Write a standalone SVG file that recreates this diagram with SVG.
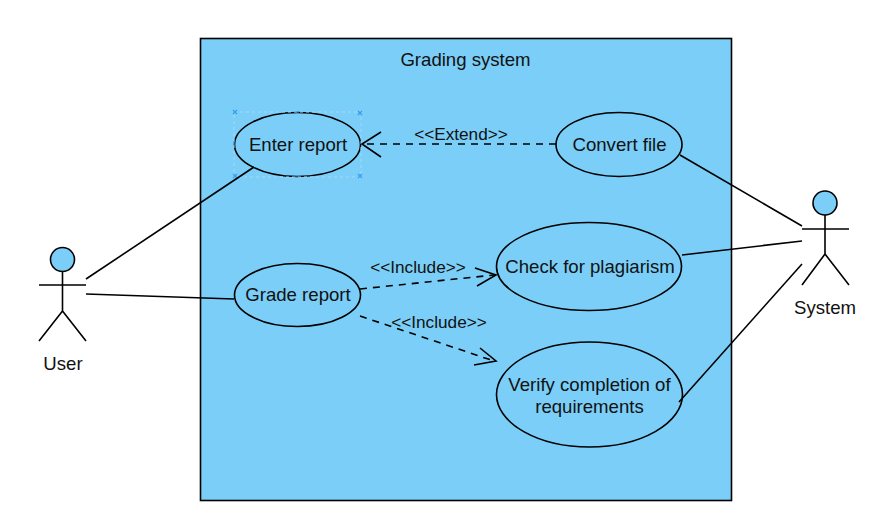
<svg xmlns="http://www.w3.org/2000/svg" width="876" height="523" viewBox="0 0 876 523">
<style>
text{font-family:"Liberation Sans",Arial,sans-serif;font-size:18.6px;fill:#111;text-anchor:middle}
.lab{font-size:17.2px}
.s{fill:#7acef7;stroke:#000;stroke-width:1.6}
.l{fill:none;stroke:#000;stroke-width:1.6}
.d{fill:none;stroke:#000;stroke-width:1.6;stroke-dasharray:7 6}
.sel{fill:none;stroke:#a4d8fb;stroke-width:1;stroke-dasharray:3 3}
.h{fill:none;stroke:#2f9fee;stroke-width:1.2}
</style>
<rect width="876" height="523" fill="#fff"/>
<g id="system-boundary"><rect class="s" x="200.500" y="38.500" width="531" height="462"/><text x="465.500" y="66">Grading system</text></g>
<g id="enter-report"><ellipse class="s" cx="297.500" cy="144.500" rx="63" ry="32"/><text x="298" y="151">Enter report</text>
<rect class="sel" x="234" y="112" width="127" height="65"/>
<path class="h" d="M233 110l4 4m0-4l-4 4M358 111l4 4m0-4l-4 4M233 174l4 4m0-4l-4 4M358 174l4 4m0-4l-4 4M295 112h4M295 176h4M234 141v4"/></g>
<g id="convert-file"><ellipse class="s" cx="619" cy="144.500" rx="63" ry="32"/><text x="619.500" y="151">Convert file</text></g>
<g id="grade-report"><ellipse class="s" cx="297.500" cy="295" rx="63" ry="31.500"/><text x="298" y="301">Grade report</text></g>
<g id="check-plagiarism"><ellipse class="s" cx="589" cy="266.500" rx="92.500" ry="44"/><text x="590" y="273">Check for plagiarism</text></g>
<g id="verify-completion"><ellipse class="s" cx="589.500" cy="394.500" rx="93" ry="52.500"/><text x="589.500" y="391">Verify completion of</text><text x="589.500" y="413">requirements</text></g>
<g id="connectors">
<path class="l" d="M86 279L254 167"/>
<path class="l" d="M86 294L234 299"/>
<path class="l" d="M680 155L802 226"/>
<path class="l" d="M682 255L802 241"/>
<path class="l" d="M679 402L802 264"/>
<path class="d" d="M556 144H364"/>
<path class="l" d="M381 132L362 144L381 157"/>
<path class="d" d="M360 289L494 275"/>
<path class="l" d="M475 268L496 275L477 286"/>
<path class="d" d="M360 316L494 361"/>
<path class="l" d="M480 348L496 361L474 365"/>
</g>
<g id="labels"><text class="lab" x="461" y="140">&lt;&lt;Extend&gt;&gt;</text><text class="lab" x="418" y="273">&lt;&lt;Include&gt;&gt;</text><text class="lab" x="439" y="328">&lt;&lt;Include&gt;&gt;</text></g>
<g id="user"><circle class="s" cx="62.500" cy="259.500" r="12"/><path class="l" d="M62.500 272V311M39 285H86M62.500 311L39 341M62.500 311L86 341"/><text x="63" y="370">User</text></g>
<g id="system"><circle class="s" cx="825" cy="203" r="12"/><path class="l" d="M825 215V254M802 229H849M825 254L802 285M825 254L849 285"/><text x="825" y="314">System</text></g>
</svg>
